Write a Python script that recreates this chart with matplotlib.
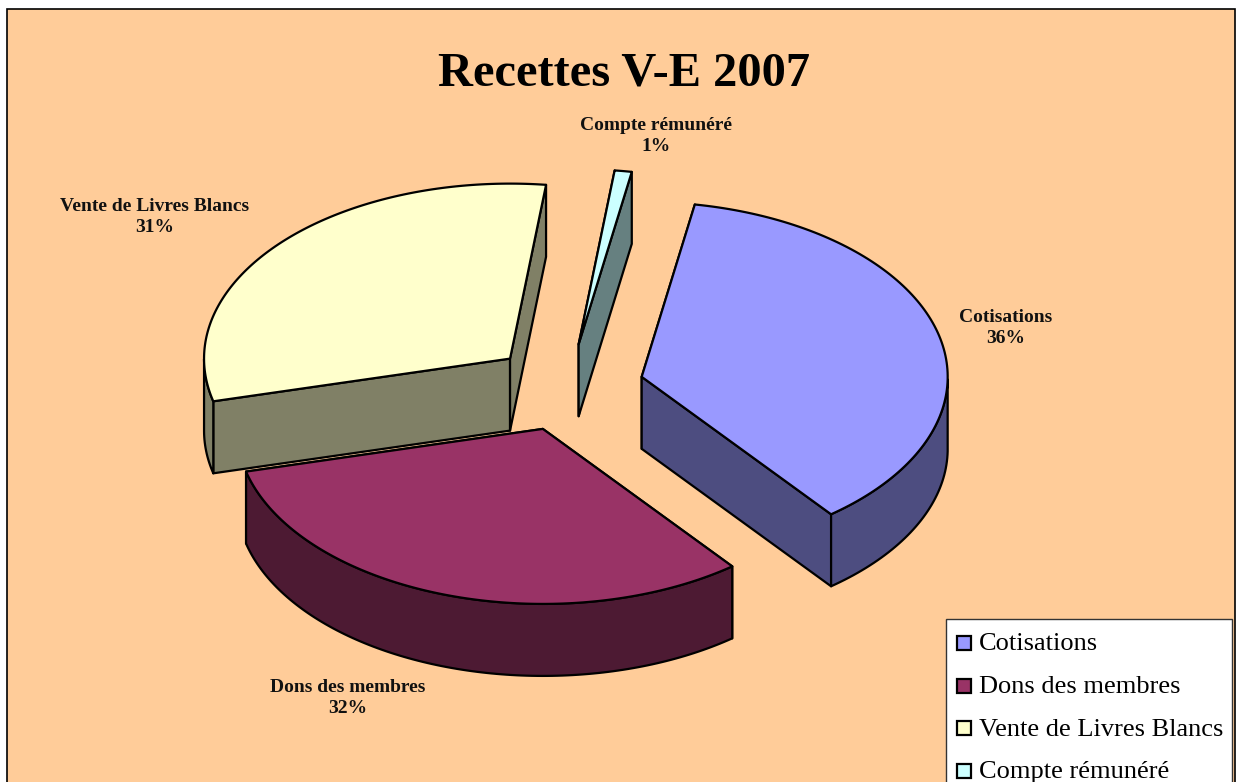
# recettes_2007.py

import numpy as np
import matplotlib.pyplot as plt
from matplotlib.patches import Polygon, Rectangle

categories = ['Cotisations', 'Dons des membres', 'Vente de Livres Blancs', 'Compte rémunéré']
values = [36.6, 31.7, 30.8, 0.9]
pct_labels = ['36%', '32%', '31%', '1%']
title = 'Recettes V-E 2007'

top_colors = ['#9999FF', '#993366', '#FFFFCC', '#CCFFFF']
side_colors = ['#4D4D80', '#4D1A33', '#808066', '#668080']

# geometry in pixels
W, H = 1239, 782
cx, cy = 567.5, 387.5
rx, ry = 306, 175
depth = 72
explode = 0.25
start_angle = 80

fig = plt.figure(figsize=(W/100, H/100), dpi=100)
ax = fig.add_axes([0, 0, 1, 1])
ax.set_xlim(0, W)
ax.set_ylim(H, 0)
ax.axis('off')
plt.rcParams['font.family'] = ['Liberation Serif', 'DejaVu Sans']

ax.add_patch(Rectangle((7, 9), 1228, H, fc='#FFCC99', ec='black', lw=1.2))

angles = start_angle - np.cumsum([0] + values) * 3.6
order = [3, 2, 0, 1]


def rim(t):
    return np.cos(t)*rx, -np.sin(t)*ry


for i in order:
    a1, a0 = np.radians(angles[i]), np.radians(angles[i+1])
    mid = (a0 + a1) / 2
    ox = cx + explode*rx*np.cos(mid)
    oy = cy - explode*ry*np.sin(mid)

    t = np.linspace(a1, a0, 120)
    xs = ox + rim(t)[0]
    ys = oy + rim(t)[1]

    # cut faces
    for k in [0, -1]:
        face = [(ox, oy), (xs[k], ys[k]), (xs[k], ys[k]+depth), (ox, oy+depth)]
        ax.add_patch(Polygon(face, fc=side_colors[i], ec='black', lw=1.6, joinstyle='round'))

    # outer wall, only the part facing the viewer
    front = np.sin(t) <= 0
    if front.any():
        wall = list(zip(xs[front], ys[front])) + list(zip(xs[front][::-1], ys[front][::-1]+depth))
        ax.add_patch(Polygon(wall, fc=side_colors[i], ec='black', lw=1.6, joinstyle='round'))

    top = [(ox, oy)] + list(zip(xs, ys))
    ax.add_patch(Polygon(top, fc=top_colors[i], ec='black', lw=1.6, joinstyle='round'))

ax.text(624, 73, title, ha='center', va='center', fontsize=34.8, fontweight='bold', color='black')

label_pos = [(1006, 328), (348, 698), (155, 217), (656, 136)]
for name, pct, (x, y) in zip(categories, pct_labels, label_pos):
    ax.text(x, y, name + '\n' + pct, ha='center', va='center', fontsize=14,
            fontweight='bold', color='#111111', linespacing=1.3)

# legend box runs off the bottom of the image
ax.add_patch(Rectangle((946, 619), 286, 200, fc='white', ec='#333333', lw=1))
for i, name in enumerate(categories):
    y = 643 + i*42.6
    ax.add_patch(Rectangle((957, y-7), 14, 14, fc=top_colors[i], ec='black', lw=1.6))
    ax.text(979, y+1.5, name, ha='left', va='center', fontsize=19, color='black')

fig.savefig('out.png', dpi=100)
